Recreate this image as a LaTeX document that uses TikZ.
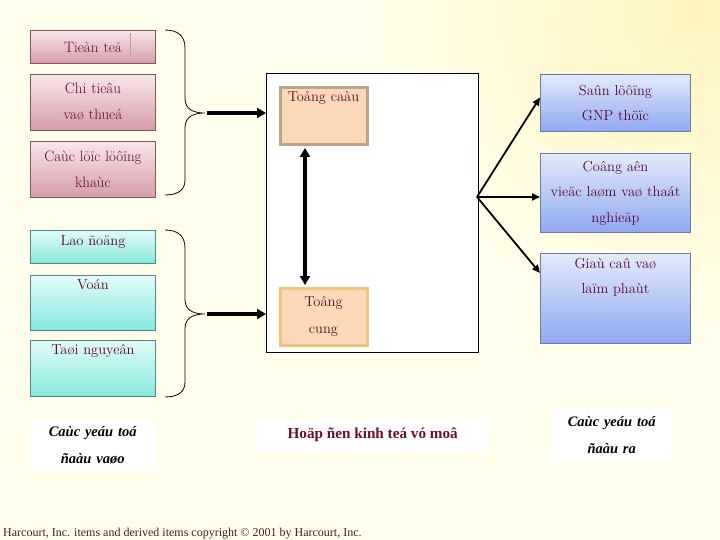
\documentclass[tikz,border=0pt]{standalone}
\usepackage{fontspec}
\newfontfamily\footfont{Liberation Serif}
\usetikzlibrary{arrows.meta}
\definecolor{bg}{HTML}{FFFFEC}
\definecolor{glow}{HTML}{FFF4BE}
\definecolor{pinktop}{HTML}{F8E6EA}
\definecolor{pinkbot}{HTML}{D69CA8}
\definecolor{pinkline}{HTML}{86585E}
\definecolor{cyantop}{HTML}{E2FBF8}
\definecolor{cyanbot}{HTML}{86E8DE}
\definecolor{cyanline}{HTML}{4C8C84}
\definecolor{bluetop}{HTML}{E2EAFB}
\definecolor{bluebot}{HTML}{8FA8F0}
\definecolor{blueline}{HTML}{6C7AA4}
\definecolor{peach}{HTML}{FBD9B8}
\definecolor{demandline}{HTML}{B9A48C}
\definecolor{supplyline}{HTML}{F1C47E}
\definecolor{boxtext}{HTML}{5C0A2C}
\definecolor{titletext}{HTML}{700E26}
\definecolor{foottext}{HTML}{4E1C14}
\tikzset{
  basebox/.style={anchor=north west, inner sep=0pt, line width=0.9pt},
  pinkbox/.style={basebox, top color=pinktop, bottom color=pinkbot, draw=pinkline,
     minimum width=125pt, text width=123pt, align=center, text=boxtext,
     font=\fontsize{15}{26}\selectfont},
  cyanbox/.style={basebox, top color=cyantop, bottom color=cyanbot, draw=cyanline,
     minimum width=125pt},
  bluebox/.style={basebox, top color=bluetop, bottom color=bluebot, draw=blueline,
     minimum width=150pt, text width=148pt, align=center, text=boxtext,
     font=\fontsize{14.5}{25.5}\selectfont},
  toplabel/.style={anchor=north, inner sep=0pt, align=center, text=boxtext},
  peachbox/.style={anchor=north west, inner sep=0pt, fill=peach, line width=3pt,
     minimum width=87pt},
  whitebox/.style={anchor=north west, fill=white, inner sep=0pt},
  brace/.style={line width=0.8pt, black},
  bigarrow/.style={line width=4pt, -{Triangle[length=9pt,width=10pt]}},
  fanarrow/.style={line width=1.8pt, -{Triangle[length=8pt,width=7pt]}},
}
\begin{document}
\begin{tikzpicture}[x=1pt,y=-1pt]
\useasboundingbox (0,0) rectangle (720,540);
\fill[bg] (0,0) rectangle (720,540);
\begin{scope}
  \clip (0,0) rectangle (720,540);
  \shade[inner color=glow, outer color=bg] (700,10) circle (330);
\end{scope}

% left pink boxes
\node[pinkbox, minimum height=33pt] (money) at (30,30) {Tieàn teä};
\draw[gray!70, line width=0.6pt] (130,33) -- (130,55);
\node[pinkbox, minimum height=56pt] (spend) at (30,74) {Chi tieâu\\vaø thueá};
\node[pinkbox, minimum height=56pt] (other) at (30,141) {Caùc löïc löôïng\\khaùc};

% left cyan boxes
\node[cyanbox, minimum height=33pt] (labor) at (30,230) {};
\node[toplabel, font=\fontsize{14.5}{20}\selectfont] at ([yshift=-5pt]labor.north) {Lao ñoäng};
\node[cyanbox, minimum height=55pt] (capital) at (30,275) {};
\node[toplabel, font=\fontsize{14.5}{20}\selectfont] at ([yshift=-4pt]capital.north) {Voán};
\node[cyanbox, minimum height=56pt] (resource) at (30,340) {};
\node[toplabel, font=\fontsize{14.5}{20}\selectfont] at ([yshift=-4pt]resource.north) {Taøi nguyeân};

% input label
\node[whitebox, minimum width=125pt, minimum height=50pt, text width=125pt, align=center,
  font=\footfont\bfseries\itshape\fontsize{14.5}{27}\selectfont] (inlab) at (30,420)
  {Caùc yeáu toá\\ñaàu vaøo};

% braces
\coordinate (tip1) at (205,113);
\coordinate (tip2) at (205,314);
\draw[brace] (165,30) .. controls (178,30) and (185,36) .. (185,48) -- (185,98)
  .. controls (185,107) and (190,113) .. (tip1)
  .. controls (190,113) and (185,119) .. (185,128) -- (185,180)
  .. controls (185,190) and (178,195) .. (165,195);
\draw[brace] (165,230) .. controls (178,230) and (185,236) .. (185,248) -- (185,299)
  .. controls (185,308) and (190,314) .. (tip2)
  .. controls (190,314) and (185,320) .. (185,329) -- (185,382)
  .. controls (185,392) and (178,397) .. (165,397);

% big box
\node[whitebox, draw=black, line width=0.8pt, minimum width=212pt, minimum height=279pt] (macro) at (266,73) {};

\draw[bigarrow] ([xshift=2pt]tip1) -- (macro.west |- tip1);
\draw[bigarrow] ([xshift=2pt]tip2) -- (macro.west |- tip2);

% demand / supply
\node[peachbox, draw=demandline, minimum height=57pt] (demand) at (278.5,86.5) {};
\node[toplabel, font=\fontsize{14.5}{26}\selectfont] at ([yshift=-5pt]demand.north) {Toång caàu};
\node[peachbox, draw=supplyline, minimum height=57pt, text width=87pt, align=center,
  text=boxtext, font=\fontsize{14.5}{27}\selectfont] (supply) at (278.5,286.5) {Toång\\cung};
\draw[line width=4pt, {Triangle[length=9pt,width=10pt]}-{Triangle[length=9pt,width=10pt]}]
  ([xshift=26.5pt,yshift=-1.5pt]demand.south west) -- ([xshift=26.5pt,yshift=1.5pt]supply.north west);

% title
\node[whitebox, minimum width=231pt, minimum height=34pt, text=titletext,
  font=\footfont\bfseries\fontsize{15.2}{18}\selectfont] (title) at (257,418)
  {Hoäp ñen kinh teá vó moâ};

% right blue boxes
\node[bluebox, minimum height=57pt] (gnp) at (540,74) {Saûn löôïng\\GNP thöïc};
\node[bluebox, minimum height=79pt] (jobs) at (540,153) {Coâng aên\\vieäc laøm vaø thaát\\nghieäp};
\node[bluebox, minimum height=90pt] (price) at (540,253) {};
\node[toplabel, font=\fontsize{14.5}{25.5}\selectfont] at ([yshift=-5pt]price.north) {Giaù caû vaø\\laïm phaùt};

% fan arrows
\coordinate (fan) at (477,197);
\draw[fanarrow] (fan) -- ([yshift=5.5pt]gnp.west);
\draw[fanarrow] (fan) -- (jobs.west |- fan);
\draw[fanarrow] (fan) -- ([yshift=-20pt]price.north west);

% output label
\node[whitebox, minimum width=123pt, minimum height=54pt, text width=123pt, align=center,
  font=\footfont\bfseries\itshape\fontsize{14.5}{27}\selectfont] (outlab) at (550,408)
  {Caùc yeáu toá\\ñaàu ra};

% footer
\node[anchor=base west, inner sep=0pt, text=foottext, font=\footfont\fontsize{12}{13}\selectfont]
  (foot) at (3,536) {Harcourt, Inc. items and derived items copyright © 2001 by Harcourt, Inc.};
\end{tikzpicture}
\end{document}
